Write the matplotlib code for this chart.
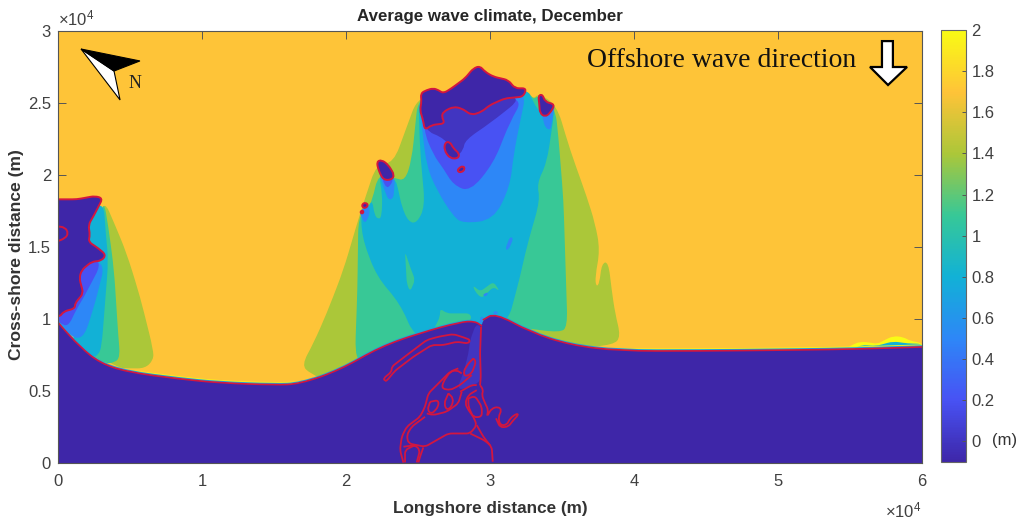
import matplotlib
matplotlib.use('Agg')
import matplotlib.pyplot as plt
import numpy as np
from matplotlib.cm import ScalarMappable
from matplotlib.colors import LinearSegmentedColormap, Normalize
from matplotlib.patches import PathPatch, Polygon
from matplotlib.path import Path

plt.rcParams['font.family'] = ['Liberation Sans', 'DejaVu Sans']
plt.rcParams['mathtext.default'] = 'regular'

# all outlines in km
shore = [(0, 9.79), (0.14, 9.58), (1.53, 8.06), (2.92, 6.94), (4.79, 6.32), (8.47, 5.83), (11.25, 5.56),
         (15.07, 5.42), (16.8, 5.49), (19.58, 6.46), (22.36, 8.06), (25.14, 9.03), (27.92, 9.79), (28.96, 9.85),
         (29.44, 9.5), (29.5, 9.93), (30.35, 10.42), (32.78, 9.1), (35.56, 8.19), (39.03, 7.78), (44.6, 7.78),
         (51.5, 7.85), (55.7, 7.92), (60, 8.06)]

olive_main = [(16.92, 6.8), (17.74, 8.31), (18.66, 10.39), (19.82, 13.4), (20.98, 17.34), (22.13, 20.81),
              (23.29, 20.81), (25.03, 25.55), (32.55, 25.95), (33.01, 25.25), (33.36, 25.67), (34.63, 24.86),
              (35.56, 21.74), (36.72, 18.49), (37.3, 16.64), (37.64, 14.79), (37.3, 12.94), (37.37, 12.24),
              (37.6, 12.47), (37.76, 13.86), (38.22, 13.98), (38.45, 12.01), (38.69, 10.39), (39.08, 8.77),
              (38.57, 8.2), (34.87, 7.9), (30.7, 9.3), (23.06, 7.0), (18.89, 5.6), (17.5, 6.22)]
green_main = [(20.63, 7.61), (20.79, 12.01), (20.86, 17.11), (21.49, 17.68), (21.83, 18.26), (22.25, 20.11),
              (23.41, 19.77), (24.1, 19.61), (24.56, 21.04), (25.03, 25.55), (32.55, 25.95), (33.01, 25.21),
              (33.36, 25.55), (34.52, 24.74), (34.75, 22.66), (35.1, 18.26), (35.21, 14.79), (35.38, 9.47),
              (34.87, 9.05), (31.39, 9.5), (24.68, 8.0), (22.6, 7.2), (20.98, 7.04)]
cyan_main = [(21.05, 17.68), (21.09, 15.72), (22.13, 12.94), (23.75, 11.09), (24.8, 8.66), (26.3, 9.0),
             (31.2, 9.6), (32.09, 12.94), (32.55, 15.02), (33.48, 18.26), (33.25, 19.42), (33.94, 20.81),
             (34.52, 24.74), (33.94, 23.82), (33.25, 24.63), (32.9, 25.32), (32.55, 25.95), (25.03, 25.55),
             (25.14, 21.74), (25.49, 17.8), (24.91, 16.64), (24.33, 16.76), (23.87, 17.8), (23.64, 18.96),
             (23.41, 19.77), (22.25, 20.11), (22.53, 18.73), (22.48, 17.11), (22.25, 16.92), (21.97, 17.22),
             (21.83, 18.26), (21.55, 17.8)]
blue_main = [(25.07, 25.55), (25.26, 23.36), (25.61, 20.58), (26.3, 18.96), (27.46, 17.11), (28.15, 16.64),
             (30.24, 16.87), (31.39, 19.19), (31.63, 21.39), (32.09, 23.7), (32.55, 25.9)]
violet_main = [(25.37, 23.12), (26.07, 21.39), (26.76, 20.46), (27.46, 19.3), (28.62, 18.84), (30.24, 20.81),
               (31.39, 23.7), (32.32, 25.32), (29.31, 25.5), (26.76, 25.5), (25.5, 25.0)]
indigo_main = [(25.37, 23.12), (26.88, 22.55), (27.69, 21.27), (28.15, 21.74), (28.27, 22.43), (30.0, 23.59),
               (32.32, 25.44), (29.31, 25.5), (26.76, 25.5), (25.5, 25.0)]

green_patches = [[(24.1, 14.67), (24.45, 13.63), (24.8, 12.71), (24.45, 11.9), (24.22, 12.47)],
                 [(28.8, 12.36), (29.31, 11.9), (30.24, 12.59), (30.7, 11.9), (30.24, 12.24), (29.43, 11.43),
                  (28.96, 11.9)],
                 [(26.53, 10.74), (26.99, 10.39), (28.62, 10.39), (28.73, 9.93), (27.69, 9.7), (26.07, 9.23),
                  (26.53, 10.16)]]
blue_patches = [[(31.39, 15.72), (31.05, 14.84), (31.28, 14.79), (31.63, 15.6)],
                [(29.43, 11.66), (29.89, 11.9), (29.77, 11.55)],
                [(29.31, 10.16), (29.59, 10.16), (29.43, 9.0), (29.26, 9.0)],
                [(30.12, 10.39), (30.47, 10.62), (30.58, 10.28)],
                [(22.25, 20.35), (22.59, 19.19), (22.94, 18.27), (23.29, 18.38), (23.4, 19.77)],
                [(20.9, 17.46), (21.32, 16.6), (21.67, 17.34), (21.55, 17.92)],
                [(33.42, 24.97), (33.82, 23.3), (34.2, 23.1), (34.51, 24.9)]]
violet_tails = [[(22.48, 19.77), (22.82, 19.08), (23.12, 19.31), (23.29, 19.77)]]

olive_left = [(3.15, 18.38), (3.96, 16.53), (4.77, 14.56), (5.7, 11.55), (6.62, 7.85), (6.62, 7.15), (6.04, 6.57),
              (5.0, 6.57), (4.19, 6.6), (1.5, 8.2)]
green_left = [(3.15, 18.38), (3.5, 16.41), (3.89, 13.4), (4.19, 8.78), (4.31, 7.39), (3.96, 6.97), (3.15, 6.9),
              (1.5, 8.2)]
cyan_left = [(3.15, 18.38), (3.33, 15.72), (3.5, 14.1), (3.03, 8.08), (2.8, 7.5), (2.34, 7.3), (1.0, 8.2),
             (1.0, 16.0)]
blue_left = [(3.33, 14.1), (2.45, 10.63), (1.64, 8.31), (0.14, 9.47), (-0.5, 10.16), (0.5, 12.0), (1.0, 14.0)]
violet_left = [(3.2, 14.2), (1.76, 11.44), (1.25, 10.63), (0.72, 9.47), (0.14, 9.7), (-0.5, 10.16), (1.0, 14.5)]

east_bump = [(54.8, 7.99), (55.2, 8.23), (55.7, 8.42), (56.4, 8.37), (56.9, 8.26), (57.4, 8.54), (58.0, 8.82),
             (58.7, 8.75), (59.2, 8.47), (60, 8.35), (60, 8.0), (54.8, 7.9)]
east_bump_low = [(55.3, 7.95), (55.8, 8.2), (56.8, 8.12), (58.0, 8.45), (59.0, 8.3), (60, 8.28), (60, 8.0),
                 (55.3, 7.9)]
river = [(29.03, 9.65), (29.4, 9.46), (29.31, 7.61), (29.36, 5.64), (28.62, 5.34), (27.92, 5.06), (27.8, 5.41),
         (28.15, 6.22), (28.5, 7.61), (28.62, 8.54)]

# land / dry outlines with red contour
dry_top = [(25.18, 25.67), (25.6, 25.9), (26.06, 26.02), (26.41, 25.9), (26.76, 25.67), (27.33, 26.02), (28.26, 26.71),
           (28.84, 27.4), (29.3, 27.57), (29.65, 27.17), (30.23, 26.83), (31.27, 26.59), (31.73, 26.02), (32.54, 26.02),
           (32.31, 25.44), (31.04, 25.32), (30.0, 24.86), (29.42, 24.39), (28.72, 24.16), (28.03, 24.63), (27.45, 24.74),
           (26.76, 24.39), (26.64, 24.05), (26.87, 23.58), (25.94, 23.47), (25.48, 23.12), (25.32, 23.93), (25.13, 24.51),
           (25.25, 25.09)]
dry_right = [(33.35, 25.51), (33.65, 25.6), (33.82, 25.09), (34.51, 24.9), (34.16, 24.28), (33.82, 24.05),
             (33.47, 24.28), (33.42, 24.97)]
dry_isle_a = [(26.87, 22.26), (27.22, 22.31), (27.45, 21.85), (27.87, 21.5), (27.8, 21.15), (27.22, 21.15), (26.82, 21.73)]
dry_isle_b = [(27.8, 20.46), (28.14, 20.64), (28.26, 20.41), (28.03, 20.18), (27.75, 20.23)]
dry_isle_c = [(22.13, 20.93), (22.48, 21.05), (22.94, 20.7), (23.36, 20.0), (23.17, 19.66), (22.59, 19.66), (22.25, 20.35)]
dry_isle_d = [(21.13, 17.99), (21.36, 18.08), (21.55, 17.92), (21.36, 17.69), (21.13, 17.76)]
dry_dot = [(21.02, 17.5), (21.2, 17.53), (21.2, 17.34), (21.02, 17.34)]
dry_left = [(-0.5, 18.31), (1.3, 18.31), (2.57, 18.54), (3.1, 18.38), (2.57, 17.34), (2.11, 16.53), (2.22, 15.84),
            (2.11, 15.37), (2.8, 14.91), (3.33, 14.45), (3.03, 14.05), (2.34, 13.98), (1.64, 13.4), (1.48, 12.83),
            (1.76, 11.78), (1.18, 11.09), (1.18, 10.74), (0.37, 10.51), (0.14, 10.16), (-0.5, 10.16)]
left_loop = [(-0.3, 16.46), (0.49, 16.37), (0.72, 15.95), (0.49, 15.6), (-0.3, 15.3)]

# delta channels
channels = [
    [(22.71, 5.71), (22.6, 5.87), (23.17, 6.34), (23.17, 6.68), (24.22, 7.49), (25.61, 8.54), (26.42, 8.77), (27.46, 8.95),
     (28.38, 8.65), (28.62, 8.54), (28.5, 8.3), (27.69, 8.42), (26.76, 8.19), (25.95, 8.19), (24.68, 7.38), (23.41, 6.41),
     (22.83, 5.71), (22.71, 5.71)],
    [(28.85, 7.26), (29.03, 7.03), (28.73, 6.22), (28.27, 5.99), (28.15, 6.34), (28.5, 6.92), (28.85, 7.26)],
    [(28.04, 6.22), (27.69, 6.45), (27.23, 6.34), (26.76, 5.64), (26.65, 5.18), (27.23, 5.06), (27.92, 5.41), (28.73, 6.11)],
    [(29.08, 5.41), (28.73, 5.41), (27.92, 4.95)],
    [(27.8, 6.57), (27.23, 6.34), (26.3, 5.41), (25.72, 4.83), (25.49, 3.91), (25.14, 3.21), (24.22, 2.52), (23.87, 1.82),
     (23.75, 0.9), (23.99, 0.02)],
    [(25.61, 3.44), (26.07, 3.33), (26.99, 3.56), (27.8, 4.14), (28.04, 4.95)],
    [(25.84, 4.25), (26.42, 4.37), (26.42, 3.91), (25.95, 3.4), (25.65, 3.67), (25.84, 4.25)],
    [(27.11, 4.83), (27.46, 4.49), (27.34, 3.91), (26.99, 3.67), (26.81, 4.14), (27.11, 4.83)],
    [(25.49, 3.21), (24.56, 2.52), (24.22, 1.94), (24.33, 1.36), (25.49, 1.13), (26.3, 1.59), (27.11, 2.05), (28.62, 2.05),
     (29.08, 2.63), (28.85, 3.21), (28.5, 3.67), (28.27, 4.14), (28.5, 4.72), (29.08, 5.06)],
    [(28.5, 4.49), (28.96, 4.65), (29.43, 3.91), (29.43, 3.21), (28.85, 3.17), (28.5, 3.91), (28.5, 4.49)],
    [(28.62, 2.05), (29.66, 1.55), (30.12, 1.13), (30.19, 0.09)],
    [(29.08, 2.63), (29.54, 1.82), (30.0, 1.24)],
    [(29.31, 5.41), (29.54, 5.06), (29.43, 4.72), (29.66, 4.14), (29.89, 3.67), (29.77, 3.21), (30.12, 3.79), (30.58, 3.91),
     (30.81, 3.67), (30.58, 3.21), (30.7, 2.63), (31.16, 2.63), (31.39, 3.1), (31.86, 3.44), (31.97, 3.33), (31.62, 2.98),
     (31.28, 2.52), (30.7, 2.47), (30.42, 3.1)],
    [(23.99, 1.13), (24.8, 1.24), (25.14, 0.9), (24.91, 0.04)],
    [(24.1, 0.04), (24.1, 0.9), (24.8, 1.24)],
    [(25.37, 1.08), (25.14, 0.43), (25.03, 0.04)],
    [(29.38, 9.46), (29.31, 7.61), (29.36, 5.99), (29.31, 5.41)],
]

compass_white = [(1.6, 28.75), (4.31, 25.21), (3.89, 27.22)]
compass_black = [(1.6, 28.75), (5.69, 27.92), (3.89, 27.22)]
wave_arrow = [(57.22, 29.3), (57.98, 29.3), (57.98, 27.5), (58.96, 27.5), (57.64, 26.25), (56.39, 27.5), (57.22, 27.5)]

# wave height of each band (m)
h_offshore, h_olive, h_green, h_cyan = 1.7, 1.4, 1.1, 0.8
h_blue, h_violet, h_indigo, h_dry, h_fringe = 0.5, 0.2, 0.0, -0.1, 2.0

x_ticks = [0, 1, 2, 3, 4, 5, 6]
y_ticks = [0, 0.5, 1, 1.5, 2, 2.5, 3]
cbar_ticks = [0, 0.2, 0.4, 0.6, 0.8, 1, 1.2, 1.4, 1.6, 1.8, 2]

parula = LinearSegmentedColormap.from_list('parula_like', [
    (0.2422, 0.1504, 0.6603), (0.2810, 0.3228, 0.9579), (0.1786, 0.5289, 0.9682), (0.0689, 0.6948, 0.8394),
    (0.2161, 0.7843, 0.5923), (0.6720, 0.7793, 0.2227), (0.9970, 0.7659, 0.2199), (0.9769, 0.9839, 0.0805)])
norm = Normalize(-0.1, 2)
txt = '#404040'
red = '#D3163F'

fig = plt.figure(figsize=(10.23, 5.2), dpi=100)
ax = fig.add_axes([58 / 1023, 57 / 520, 864 / 1023, 432 / 520])
ax.set_facecolor(parula(norm(h_offshore)))


def rounded(points, r_max, closed=True):
    """Path through the outline with its corners rounded off (km in, metres out)."""
    pts = np.array(points, dtype=float) * 1000
    r_max = r_max * 1000
    n = len(pts)
    verts, codes = [], []
    idx = range(n) if closed else range(1, n - 1)
    if not closed:
        verts.append(pts[0])
        codes.append(Path.MOVETO)
    for i in idx:
        p, a, b = pts[i], pts[i - 1], pts[(i + 1) % n]
        la, lb = np.linalg.norm(a - p), np.linalg.norm(b - p)
        if la == 0 or lb == 0:
            continue
        start = p + (a - p) / la * min(r_max, la / 2)
        end = p + (b - p) / lb * min(r_max, lb / 2)
        verts.append(start)
        codes.append(Path.MOVETO if not verts[:-1] else Path.LINETO)
        verts += [p, end]
        codes += [Path.CURVE3, Path.CURVE3]
    if closed:
        verts.append(verts[0])
        codes.append(Path.CLOSEPOLY)
    else:
        verts.append(pts[-1])
        codes.append(Path.LINETO)
    return verts, codes


def band(points, value, z=2, r=1.2):
    verts, codes = rounded(points, r)
    ax.add_patch(PathPatch(Path(verts, codes), fc=parula(norm(value)), ec='none', zorder=z))


def contour(points, closed=True, lw=1.4, r=0.5):
    verts, codes = rounded(points, r, closed)
    ax.add_patch(PathPatch(Path(verts, codes), fc='none', ec=red, lw=lw, zorder=8))


for shape, value in [(olive_main, h_olive), (green_main, h_green), (cyan_main, h_cyan), (blue_main, h_blue),
                     (violet_main, h_violet), (indigo_main, h_indigo), (olive_left, h_olive), (green_left, h_green),
                     (cyan_left, h_cyan), (blue_left, h_blue), (violet_left, h_violet)]:
    band(shape, value)
for patch in green_patches:
    band(patch, h_green, z=3, r=0.3)
for patch in blue_patches:
    band(patch, h_blue, z=3, r=0.3)
for patch in violet_tails:
    band(patch, h_violet, z=3, r=0.3)
band(east_bump, h_fringe, z=3, r=0.4)
band(east_bump_low, 0.8, z=3, r=0.4)

# thin breaking fringe along the coast, yellow only where the coast meets open water
for part, height, lift in [(shore[4:9], 1.95, 0.13), (shore[19:24], 1.95, 0.13), (shore, 0.7, 0.07)]:
    verts, codes = rounded([(x, y + lift) for x, y in part], 2.5, closed=False)
    ax.add_patch(PathPatch(Path(verts, codes), fc='none', ec=parula(norm(height)), lw=1.0, zorder=3))

# land is the coast curve closed along the axes edges
verts, codes = rounded(shore, 2.5, closed=False)
verts += [(60000, 0), (0, 0), verts[0]]
codes += [Path.LINETO, Path.LINETO, Path.CLOSEPOLY]
ax.add_patch(PathPatch(Path(verts, codes), fc=parula(norm(h_dry)), ec='none', zorder=5))
band(river, h_indigo, z=6, r=0.4)

for shape in [dry_top, dry_right, dry_isle_a, dry_isle_b, dry_isle_c, dry_isle_d, dry_dot]:
    band(shape, h_dry, z=7, r=0.3)
    contour(shape, r=0.3)
band(dry_left, h_dry, z=7, r=0.3)
contour(dry_left, closed=False, r=0.3)
contour(left_loop, closed=False, r=0.3)
contour(shore[:15], closed=False, lw=1.2, r=2.5)
contour(shore[15:], closed=False, lw=1.2, r=2.5)
for line in channels:
    contour(line, closed=False, lw=1.3, r=0.25)

# compass and wave arrow
ax.add_patch(Polygon(np.array(compass_white) * 1000, fc='white', ec='black', lw=0.8, zorder=9))
ax.add_patch(Polygon(np.array(compass_black) * 1000, fc='black', ec='black', lw=0.8, zorder=9))
ax.add_patch(Polygon(np.array(wave_arrow) * 1000, fc='white', ec='black', lw=1.6, zorder=9))
ax.text(5350, 26380, 'N', family='Liberation Serif', fontsize=13, color='#222222', ha='center', va='center', zorder=9)
ax.text(36740, 27980, 'Offshore wave direction', family='Liberation Serif', fontsize=20, color='#111111',
        ha='left', va='center', zorder=9)

ax.set_xlim(0, 60000)
ax.set_ylim(0, 30000)
ax.set_xticks([t * 1e4 for t in x_ticks], [str(t) for t in x_ticks])
ax.set_yticks([t * 1e4 for t in y_ticks], [str(t) for t in y_ticks])
ax.tick_params(direction='in', top=True, right=True, length=6, width=0.7, color='#555555', labelcolor=txt,
               labelsize=12, pad=5)
ax.tick_params(axis='x', pad=8)
for s in ax.spines.values():
    s.set_color('#555555')
    s.set_linewidth(0.8)
    s.set_zorder(10)

fig.text(490 / 1023, 1 - 17 / 520, 'Average wave climate, December', fontsize=12.2, fontweight='bold', color='#262626',
         ha='center', va='center')
fig.text(490 / 1023, 1 - 508 / 520, 'Longshore distance (m)', fontsize=12.3, fontweight='bold', color='#333333',
         ha='center', va='center')
fig.text(17 / 1023, 1 - 255 / 520, 'Cross-shore distance (m)', fontsize=12.6, fontweight='bold', color='#333333',
         rotation=90, ha='center', va='center')
fig.text(58 / 1023, 1 - 18 / 520, r'$\times10^{4}$', fontsize=12, color=txt, ha='left', va='center')
fig.text(885 / 1023, 1 - 510 / 520, r'$\times10^{4}$', fontsize=12, color=txt, ha='left', va='center')

cax = fig.add_axes([941 / 1023, 58 / 520, 25 / 1023, 432 / 520])
cb = fig.colorbar(ScalarMappable(norm=norm, cmap=parula), cax=cax)
cb.set_ticks(cbar_ticks, labels=[f'{t:g}' for t in cbar_ticks])
cax.tick_params(direction='in', length=3, width=0.7, color='#555555', labelcolor=txt, labelsize=12, pad=4)
cb.outline.set_edgecolor('#666666')
cb.outline.set_linewidth(0.8)
fig.text(1005 / 1023, 1 - 441 / 520, '(m)', fontsize=12, color='#333333', ha='center', va='center')

fig.savefig('out.png', dpi=100)
